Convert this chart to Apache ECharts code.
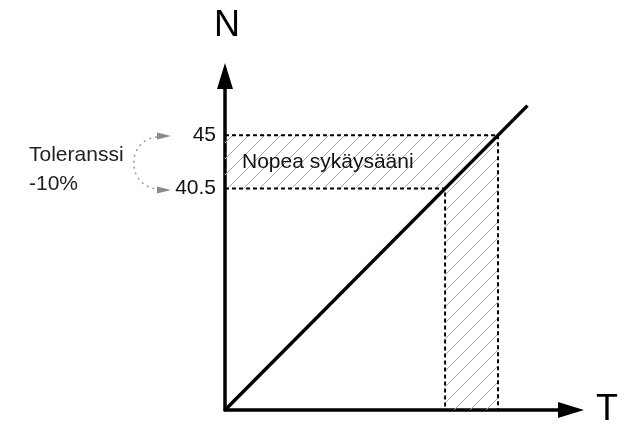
<!DOCTYPE html>
<html>
<head>
<meta charset="utf-8">
<script src="https://cdn.jsdelivr.net/npm/echarts@6/dist/echarts.min.js"></script>
<style>
html,body{margin:0;padding:0;background:#fff;}
#chart{width:635px;height:424px;}
</style>
</head>
<body>
<div id="chart"></div>
<script>
// ---- data ----
const axisMin = 21.8;               // origin value of both axes (schematic)
const xMax = 51.2;
const yMax = 50;
const yTickValues = [40.5, 45];     // labelled N values
const lineT = [21.8, 47.5];         // N = T line
const lineN = [21.8, 47.5];
const nFast = 45;                   // upper limit
const nTol = 40.5;                  // lower limit (-10%)
const bandLabel = 'Nopea sykäysääni';
const tolLabel = ['Toleranssi', '-10%'];
const axisNames = ['T', 'N'];

function hatchPattern() {
  const s = 16;
  const c = document.createElement('canvas');
  c.width = s; c.height = s;
  const g = c.getContext('2d');
  g.strokeStyle = '#a8a8a8';
  g.lineWidth = 1;
  g.beginPath();
  g.moveTo(0, s); g.lineTo(s, 0);
  g.moveTo(-2, 2); g.lineTo(2, -2);
  g.moveTo(s - 2, s + 2); g.lineTo(s + 2, s - 2);
  g.stroke();
  return c;
}

const chart = echarts.init(document.getElementById('chart'), null, {renderer: 'canvas'});
const font = 'Liberation Sans, Arial, sans-serif';
const dash = {color: '#000', width: 2, type: [4, 3]};

const option = {
  animation: false,
  backgroundColor: '#fff',
  grid: {left: 225, right: 64, top: 76, bottom: 14, containLabel: false, outerBoundsMode: 'none'},
  xAxis: {
    type: 'value', min: axisMin, max: xMax,
    name: axisNames[0], nameLocation: 'end', nameGap: 25,
    nameTextStyle: {fontSize: 36, color: '#000', fontFamily: font, verticalAlign: 'middle'},
    axisLine: {show: true, onZero: false, symbol: ['none', 'triangle'], symbolSize: [16, 26],
      lineStyle: {color: '#000', width: 3.5}},
    axisTick: {show: false}, axisLabel: {show: false}, splitLine: {show: false}
  },
  yAxis: {
    type: 'value', min: axisMin, max: yMax,
    name: axisNames[1], nameLocation: 'end', nameGap: 32,
    nameTextStyle: {fontSize: 36, color: '#000', fontFamily: font, padding: [0, 0, 0, 4]},
    axisLine: {show: true, onZero: false, symbol: ['none', 'triangle'], symbolSize: [16, 26],
      lineStyle: {color: '#000', width: 3.5}},
    axisTick: {show: false}, splitLine: {show: false},
    axisLabel: {show: true, customValues: yTickValues, fontSize: 21, color: '#111',
      fontFamily: font, margin: 9, formatter: v => String(v)}
  },
  series: [
    {
      type: 'line', silent: true, z: 1, symbol: 'none', data: [],
      markArea: {
        silent: true,
        itemStyle: {color: {image: hatchPattern(), repeat: 'repeat'}, borderWidth: 0},
        label: {show: false},
        data: [
          [{xAxis: axisMin, yAxis: nTol, name: bandLabel,
            label: {show: true, position: 'insideLeft', distance: 17, fontSize: 21,
              color: '#111', fontFamily: font}},
           {xAxis: nFast, yAxis: nFast}],
          [{xAxis: nTol, yAxis: axisMin}, {xAxis: nFast, yAxis: nTol}]
        ]
      }
    },
    {type: 'line', silent: true, z: 2, symbol: 'none', lineStyle: dash,
      data: [[axisMin, nFast], [nFast, nFast], [nFast, axisMin]]},
    {type: 'line', silent: true, z: 2, symbol: 'none', lineStyle: dash,
      data: [[axisMin, nTol], [nTol, nTol], [nTol, axisMin]]},
    {type: 'line', silent: true, z: 3, symbol: 'none',
      lineStyle: {color: '#000', width: 3.5},
      data: lineT.map((t, i) => [t, lineN[i]])}
  ],
  graphic: [
    {type: 'text', left: 29, top: 141,
      style: {text: tolLabel.join('\n'), fontSize: 21, lineHeight: 29, fill: '#222', font: '21px ' + font}},
    {type: 'bezierCurve', silent: true,
      shape: {x1: 157, y1: 137, cpx1: 126, cpy1: 140, cpx2: 126, cpy2: 186, x2: 157, y2: 189},
      style: {stroke: '#999', lineWidth: 1.5, lineDash: [2, 4], fill: null}},
    {type: 'polygon', silent: true, shape: {points: [[157, 132.5], [171, 136], [157, 139.5]]},
      style: {fill: '#8a8a8a'}},
    {type: 'polygon', silent: true, shape: {points: [[157, 186.5], [171, 190], [157, 193.5]]},
      style: {fill: '#8a8a8a'}}
  ]
};
chart.setOption(option);
</script>
</body>
</html>
